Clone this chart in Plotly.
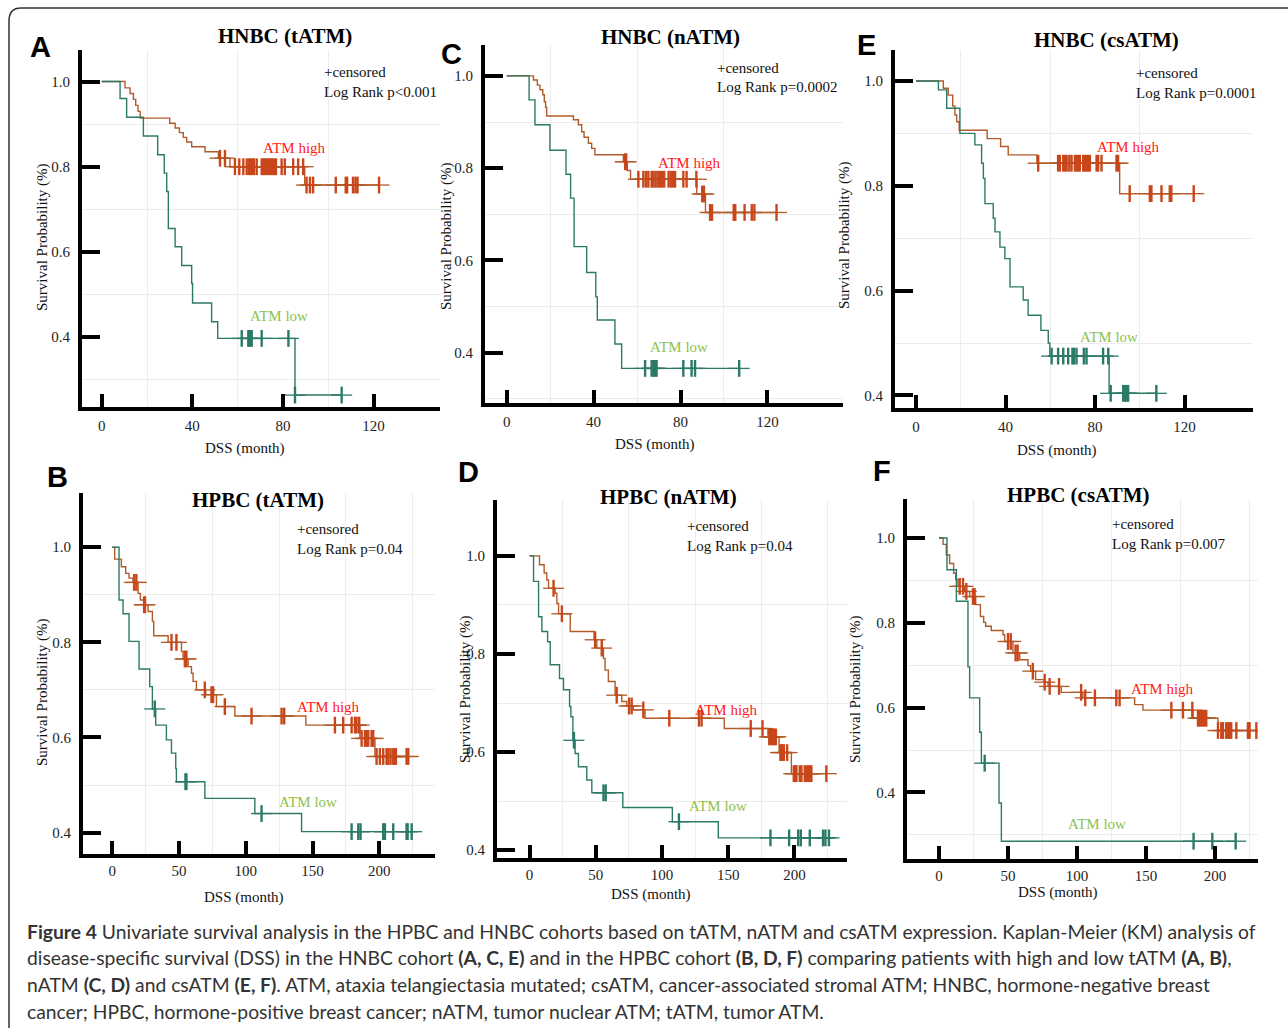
import plotly.graph_objects as go

W, H = 1288, 1028

# ---------------- data ----------------
# Panel A  HNBC (tATM)
A_high_t = [0, 10.3, 12.5, 14, 15, 16, 17, 30, 32.4, 34.3, 36, 37.5, 39.7, 45.6, 51.5, 56.6, 89.6]
A_high_s = [1.0, 0.985, 0.972, 0.958, 0.944, 0.93, 0.914, 0.902, 0.891, 0.88, 0.869, 0.858, 0.847, 0.835, 0.82, 0.80, 0.757]
A_high_c = [52.2, 54.4, 58.8, 60.7, 62.5, 64, 65.1, 65.8, 66.5, 67.2, 68.4, 70.6, 71.3, 72, 72.7, 73.4, 74.1,
            74.8, 75.5, 76.2, 76.9, 79.4, 80.8, 84.5, 86.7, 88.9, 90.4, 91.9, 93.3, 103.3, 107.7, 108.3,
            110.9, 112, 112.9, 122.4]
A_low_t = [0, 8.1, 11, 18.4, 24.7, 27.6, 28.7, 29.4, 32.4, 35.3, 39.7, 40.1, 48.5, 51.2, 85.3]
A_low_s = [1.0, 0.96, 0.916, 0.872, 0.828, 0.785, 0.742, 0.655, 0.612, 0.568, 0.526, 0.48, 0.436, 0.397, 0.264]
A_low_c = [61.8, 64.7, 65.4, 66.2, 70.6, 82.4, 85.3, 105.9]

# Panel C  HNBC (nATM)
C_high_t = [0, 12.3, 14.1, 15.3, 16.6, 17.3, 17.9, 18.4, 30.7, 33, 34.5, 35.6, 37.6, 39.1, 40.6, 53.7, 55.5, 57, 87.5, 91.5]
C_high_s = [1.0, 0.991, 0.98, 0.97, 0.959, 0.944, 0.932, 0.913, 0.905, 0.894, 0.879, 0.867, 0.854, 0.843, 0.829,
            0.814, 0.795, 0.776, 0.744, 0.704]
C_high_c = [54.5, 55, 60.6, 62.9, 64.1, 65.2, 66.7, 67.5, 68.5, 69.5, 70.5, 71.5, 72.5, 74.5, 75.5, 76.5, 77.5,
            81.3, 82.8, 87.3, 90, 90.8, 93.6, 94.5, 104.5, 105.2, 109.5, 112.8, 114, 124.2]
C_low_t = [0, 10.3, 13, 19.9, 27.3, 29.4, 31, 36.8, 41, 41.7, 49.8, 52.9]
C_low_s = [1.0, 0.948, 0.894, 0.839, 0.787, 0.735, 0.63, 0.574, 0.521, 0.471, 0.419, 0.366]
C_low_c = [63.7, 66.7, 67.5, 68.3, 69, 81.3, 85.1, 86.7, 107]

# Panel E  HNBC (csATM)
E_high_t = [0, 12.2, 14.4, 16.4, 17.4, 18.2, 19.3, 31.8, 37.8, 41.2, 54, 91]
E_high_s = [1.0, 0.986, 0.973, 0.952, 0.935, 0.922, 0.906, 0.89, 0.875, 0.859, 0.843, 0.785]
E_high_c = [54.6, 63.5, 64.3, 65.8, 66.5, 67.3, 68.5, 69.5, 71, 71.7, 72.5, 73.2, 74.7, 75.4, 76.2, 76.9, 77.7,
            80.7, 81.4, 82.9, 89.6, 90.3, 95.5, 104.5, 105.2, 109.7, 113.4, 114.1, 124.1]
E_low_t = [0, 10, 13.7, 19.6, 26.3, 29.3, 30.1, 30.8, 34.5, 35.3, 37.5, 39.7, 42, 47.9, 50.1, 55.8, 59.1, 59.8, 86.3]
E_low_s = [1.0, 0.983, 0.948, 0.9, 0.878, 0.843, 0.814, 0.766, 0.738, 0.712, 0.683, 0.661, 0.607, 0.582, 0.553,
           0.524, 0.5, 0.475, 0.404]
E_low_c = [60.6, 63.5, 65.8, 68, 69.9, 70.5, 71.7, 75, 76.2, 83.6, 85.9, 87, 92.6, 93.3, 94, 94.8, 107.4]

# Panel B  HPBC (tATM)
B_high_t = [0, 1.75, 6.75, 10, 12.5, 15.5, 19.3, 21, 23.5, 26.8, 30, 31, 41.8, 51.8, 53, 56.8, 59.3, 60.5, 63, 70,
            78, 91.8, 145, 185.5, 196.8]
B_high_s = [1.0, 0.975, 0.959, 0.945, 0.935, 0.926, 0.903, 0.889, 0.879, 0.865, 0.844, 0.814, 0.8, 0.781, 0.765,
            0.749, 0.735, 0.718, 0.7, 0.69, 0.665, 0.645, 0.626, 0.598, 0.56]
B_high_c = [16.3, 18, 23.8, 24.5, 44.3, 48, 54.3, 55.5, 69.3, 74.3, 75.5, 84.3, 104.3, 126.8, 128.8, 166.8, 173,
            179.3, 181.8, 183, 185, 186.8, 189.3, 190.5, 191.8, 194.3, 195.5, 198, 200.5, 203, 205.5, 206.8,
            208.5, 210.5, 211.8, 212.5, 220.5, 221.8]
B_low_t = [0, 5, 8, 12.5, 20, 28, 30, 32.5, 40.5, 44.3, 47.5, 48, 69.3, 106.8, 141.8]
B_low_s = [1.0, 0.889, 0.86, 0.802, 0.744, 0.707, 0.66, 0.626, 0.595, 0.567, 0.535, 0.507, 0.472, 0.44, 0.402]
B_low_c = [31.8, 54.8, 55.5, 111.8, 179.3, 184.3, 186, 203, 204.3, 210.5, 220.5, 221.3, 224.3]

# Panel D  HPBC (nATM)
D_high_t = [0, 7.5, 11, 13, 14.3, 19.3, 20.6, 21.9, 30.7, 48.7, 50.8, 55.8, 57, 59.5, 64.6, 69.6, 73.4, 78.4,
            87.2, 147, 180, 188.4, 197.7]
D_high_s = [1.0, 0.982, 0.965, 0.951, 0.934, 0.924, 0.903, 0.882, 0.846, 0.829, 0.812, 0.791, 0.767, 0.744,
            0.716, 0.703, 0.694, 0.686, 0.669, 0.648, 0.631, 0.599, 0.556]
D_high_c = [18.1, 24.4, 49.5, 54.5, 65.8, 75.1, 77.1, 85.9, 105.5, 127.9, 129.9, 167, 175.9, 181, 182.3, 183.5,
            184.8, 186, 189.4, 190.7, 192, 194.5, 199.5, 200.5, 201.5, 204, 205.3, 207.8, 209, 210.3, 211.6,
            212.8, 224.1]
D_low_t = [0, 3, 6.8, 9.3, 13.6, 15.6, 22.6, 25.6, 30.2, 31.2, 32.7, 34.4, 36.9, 43.2, 47, 70.4, 107.8, 142.5]
D_low_s = [1.0, 0.948, 0.876, 0.846, 0.825, 0.778, 0.75, 0.727, 0.693, 0.672, 0.624, 0.597, 0.57, 0.543, 0.517,
           0.487, 0.458, 0.425]
D_low_c = [33.5, 55.8, 57.5, 112.8, 181.9, 196, 202.8, 204.8, 211.6, 221.6, 223.4, 226.1]

# Panel F  HPBC (csATM)
F_high_t = [0, 3, 5.3, 7.7, 10.6, 12.1, 13.8, 18.6, 22.2, 26.6, 30, 32.4, 33.8, 37.9, 46.4, 47.6, 53.6, 58.5,
            64.5, 66.4, 70, 76.1, 79, 88.6, 104.3, 141.8, 147.8, 184.1, 202.2]
F_high_s = [1.0, 0.985, 0.96, 0.94, 0.917, 0.902, 0.886, 0.874, 0.862, 0.843, 0.815, 0.801, 0.792, 0.782, 0.772,
            0.756, 0.729, 0.713, 0.699, 0.686, 0.666, 0.66, 0.65, 0.636, 0.623, 0.607, 0.594, 0.575, 0.546]
F_high_c = [15, 17.4, 19.8, 24.6, 25.8, 50, 52, 55.5, 57, 68, 76.6, 80.2, 87, 103, 106, 113, 128.5, 130.9, 168.4,
            176.8, 183.6, 187.7, 188.9, 190.1, 191.3, 192.5, 193.7, 202.2, 204.6, 205.8, 208.2, 209.4, 210.6,
            211.8, 215.5, 223.9, 225.1, 230]
F_low_t = [0, 5.8, 12.6, 21, 22.2, 29.5, 30.7, 43.5, 45.2]
F_low_s = [1.0, 0.925, 0.851, 0.696, 0.623, 0.542, 0.469, 0.375, 0.285]
F_low_c = [33.1, 184.5, 198.1, 215]

HN_xticks = [0, 40, 80, 120]
HP_xticks = [0, 50, 100, 150, 200]
yticks = [0.4, 0.6, 0.8, 1.0]
ytick_labels = ["0.4", "0.6", "0.8", "1.0"]

titles = ["HNBC (tATM)", "HNBC (nATM)", "HNBC (csATM)", "HPBC (tATM)", "HPBC (nATM)", "HPBC (csATM)"]
letters = ["A", "C", "E", "B", "D", "F"]
pvals = ["Log Rank p<0.001", "Log Rank p=0.0002", "Log Rank p=0.0001",
         "Log Rank p=0.04", "Log Rank p=0.04", "Log Rank p=0.007"]

# ---------------- styling / layout ----------------
HIGH_LINE = "#b25a28"
HIGH_MARK = "#c8461a"
LOW_LINE = "#2b7a68"
HIGH_TXT = "#ff1a1a"
LOW_TXT = "#8fbf4e"
SERIF = "Liberation Serif"

panels = [
    dict(high=(A_high_t, A_high_s, A_high_c), low=(A_low_t, A_low_s, A_low_c),
         box=(82, 440, 50, 407), xr=[-8.7, 149.3], yr=[0.236, 1.074], xt=HN_xticks,
         xg=[20, 60, 100], yg=[0.3, 0.5, 0.7, 0.9], so=2,
         letter=(40, 47), title=(285, 36), cens=(322, 72), lr=(322, 92), hl=(294, 148), ll=(279, 316),
         ylab=(42, 238), xlab=(245, 448)),
    dict(high=(C_high_t, C_high_s, C_high_c), low=(C_low_t, C_low_s, C_low_c),
         box=(485, 843, 45, 403), xr=[-10, 154.8], yr=[0.291, 1.067], xt=HN_xticks,
         xg=[20, 60, 100], yg=[0.3, 0.5, 0.7, 0.9], so=2,
         letter=(451, 54), title=(670, 37), cens=(715, 68), lr=(715, 87), hl=(689, 163), ll=(679, 347),
         ylab=(446, 237), xlab=(655, 444)),
    dict(high=(E_high_t, E_high_s, E_high_c), low=(E_low_t, E_low_s, E_low_c),
         box=(895, 1253, 50, 408), xr=[-9.4, 150.6], yr=[0.376, 1.059], xt=HN_xticks,
         xg=[20, 60, 100], yg=[0.5, 0.7, 0.9], so=2,
         letter=(866, 45), title=(1106, 40), cens=(1134, 73), lr=(1134, 93), hl=(1128, 147), ll=(1109, 337),
         ylab=(845, 235), xlab=(1057, 450)),
    dict(high=(B_high_t, B_high_s, B_high_c), low=(B_low_t, B_low_s, B_low_c),
         box=(83, 435, 493, 854), xr=[-22, 241.8], yr=[0.355, 1.114], xt=HP_xticks,
         xg=[25, 75, 125, 175, 225], yg=[0.5, 0.7, 0.9], so=0,
         letter=(57, 477), title=(258, 500), cens=(295, 529), lr=(295, 549), hl=(328, 707), ll=(308, 802),
         ylab=(42, 693), xlab=(244, 897)),
    dict(high=(D_high_t, D_high_s, D_high_c), low=(D_low_t, D_low_s, D_low_c),
         box=(497, 847, 500, 858), xr=[-24.6, 239.7], yr=[0.384, 1.114], xt=HP_xticks,
         xg=[25, 75, 125, 175, 225], yg=[0.5, 0.7, 0.9], so=0,
         letter=(468, 472), title=(668, 497), cens=(685, 526), lr=(685, 546), hl=(726, 710), ll=(718, 806),
         ylab=(465, 690), xlab=(651, 894)),
    dict(high=(F_high_t, F_high_s, F_high_c), low=(F_low_t, F_low_s, F_low_c),
         box=(907, 1258, 499, 859), xr=[-23.2, 231.2], yr=[0.243, 1.092], xt=HP_xticks,
         xg=[25, 75, 125, 175, 225], yg=[0.3, 0.5, 0.7, 0.9], so=0,
         letter=(882, 471), title=(1078, 495), cens=(1110, 524), lr=(1110, 544), hl=(1162, 689), ll=(1097, 824),
         ylab=(855, 690), xlab=(1058, 892)),
]


def PX(x):
    return x / W


def PY(y):
    return 1 - y / H


def surv_at(ts, ss, t):
    v = ss[0]
    for ti, si in zip(ts, ss):
        if ti <= t:
            v = si
    return v


fig = go.Figure()
annotations = []
layout_axes = {}

for i, p in enumerate(panels):
    n = "" if i == 0 else str(i + 1)
    xa, ya = "x" + n, "y" + n
    l, r, t, b = p["box"]

    for (ts, ss, cs), lc, mc in [(p["high"], HIGH_LINE, HIGH_MARK), (p["low"], LOW_LINE, LOW_LINE)]:
        tend = max(max(cs), ts[-1])
        cy = [surv_at(ts, ss, c) for c in cs]
        fig.add_trace(go.Scatter(x=list(ts) + [tend], y=list(ss) + [ss[-1]], mode="lines",
                                 line=dict(color=lc, width=1.4, shape="hv"),
                                 xaxis=xa, yaxis=ya, showlegend=False, hoverinfo="skip"))
        # censor marks: thin horizontal arm + bold vertical bar ("+")
        fig.add_trace(go.Scatter(x=cs, y=cy, mode="markers",
                                 marker=dict(symbol="line-ew", size=15, color=lc, line=dict(color=lc, width=1.3)),
                                 xaxis=xa, yaxis=ya, showlegend=False, hoverinfo="skip"))
        fig.add_trace(go.Scatter(x=cs, y=cy, mode="markers",
                                 marker=dict(symbol="line-ns", size=12, color=mc, line=dict(color=mc, width=2.4)),
                                 xaxis=xa, yaxis=ya, showlegend=False, hoverinfo="skip"))

    layout_axes["xaxis" + n] = dict(
        domain=[PX(l), PX(r)], range=p["xr"], anchor=ya, tickmode="array", tickvals=p["xt"],
        ticks="inside", ticklen=13, tickwidth=4, tickcolor="black", showline=True, linewidth=4,
        linecolor="black", showgrid=False, zeroline=False, ticklabelstandoff=p["so"],
        tickfont=dict(family=SERIF, size=15, color="#222"),
        minor=dict(tickmode="array", tickvals=p["xg"], showgrid=True, gridcolor="#ececec", gridwidth=1, ticks=""))
    layout_axes["yaxis" + n] = dict(
        domain=[PY(b), PY(t)], range=p["yr"], anchor=xa, tickmode="array", tickvals=yticks,
        ticktext=ytick_labels, ticks="inside", ticklen=18, tickwidth=4, tickcolor="black", showline=True,
        linewidth=4, linecolor="black", showgrid=False, zeroline=False, ticklabelstandoff=5,
        tickfont=dict(family=SERIF, size=15, color="#222"),
        minor=dict(tickmode="array", tickvals=p["yg"], showgrid=True, gridcolor="#ececec", gridwidth=1, ticks=""))

    def ann(text, pos, size=15, color="#111", family=SERIF, xanchor="center", angle=0):
        annotations.append(dict(text=text, x=PX(pos[0]), y=PY(pos[1]), xref="paper", yref="paper",
                                xanchor=xanchor, yanchor="middle", showarrow=False, textangle=angle,
                                font=dict(family=family, size=size, color=color)))

    ann("<b>" + letters[i] + "</b>", p["letter"], size=29, color="#000", family="Liberation Sans")
    ann("<b>" + titles[i] + "</b>", p["title"], size=21, color="#000")
    ann("+censored", p["cens"], xanchor="left")
    ann(pvals[i], p["lr"], xanchor="left")
    ann("ATM high", p["hl"], color=HIGH_TXT)
    ann("ATM low", p["ll"], color=LOW_TXT)
    ann("Survival Probability (%)", p["ylab"], size=15, angle=-90)
    ann("DSS (month)", p["xlab"], size=15)

# caption
caption = [
    "<b>Figure 4</b> Univariate survival analysis in the HPBC and HNBC cohorts based on tATM, nATM and csATM "
    "expression. Kaplan-Meier (KM) analysis of",
    "disease-specific survival (DSS) in the HNBC cohort <b>(A, C, E)</b> and in the HPBC cohort <b>(B, D, F)</b> "
    "comparing patients with high and low tATM <b>(A, B)</b>,",
    "nATM <b>(C, D)</b> and csATM <b>(E, F)</b>. ATM, ataxia telangiectasia mutated; csATM, cancer-associated "
    "stromal ATM; HNBC, hormone-negative breast",
    "cancer; HPBC, hormone-positive breast cancer; nATM, tumor nuclear ATM; tATM, tumor ATM.",
]
for k, line in enumerate(caption):
    annotations.append(dict(text=line, x=PX(25), y=PY(931 + 26.7 * k), xref="paper", yref="paper",
                            xanchor="left", yanchor="middle", showarrow=False,
                            font=dict(family="Lato", size=19.3, color="#333")))

border = ("M {0},{1} L {0},{2} Q {0},{3} {4},{3} L {5},{3}"
          .format(PX(9), PY(1040), PY(21), PY(8), PX(21), PX(1295)))

fig.update_layout(
    width=W, height=H, margin=dict(l=0, r=0, t=0, b=0),
    paper_bgcolor="white", plot_bgcolor="white",
    annotations=annotations,
    shapes=[dict(type="path", path=border, xref="paper", yref="paper",
                 line=dict(color="#333", width=1.5))],
    **layout_axes,
)

fig.write_html("out.html", config={"displayModeBar": False},
               post_script="document.body.style.margin='0';document.body.style.overflow='hidden';")
